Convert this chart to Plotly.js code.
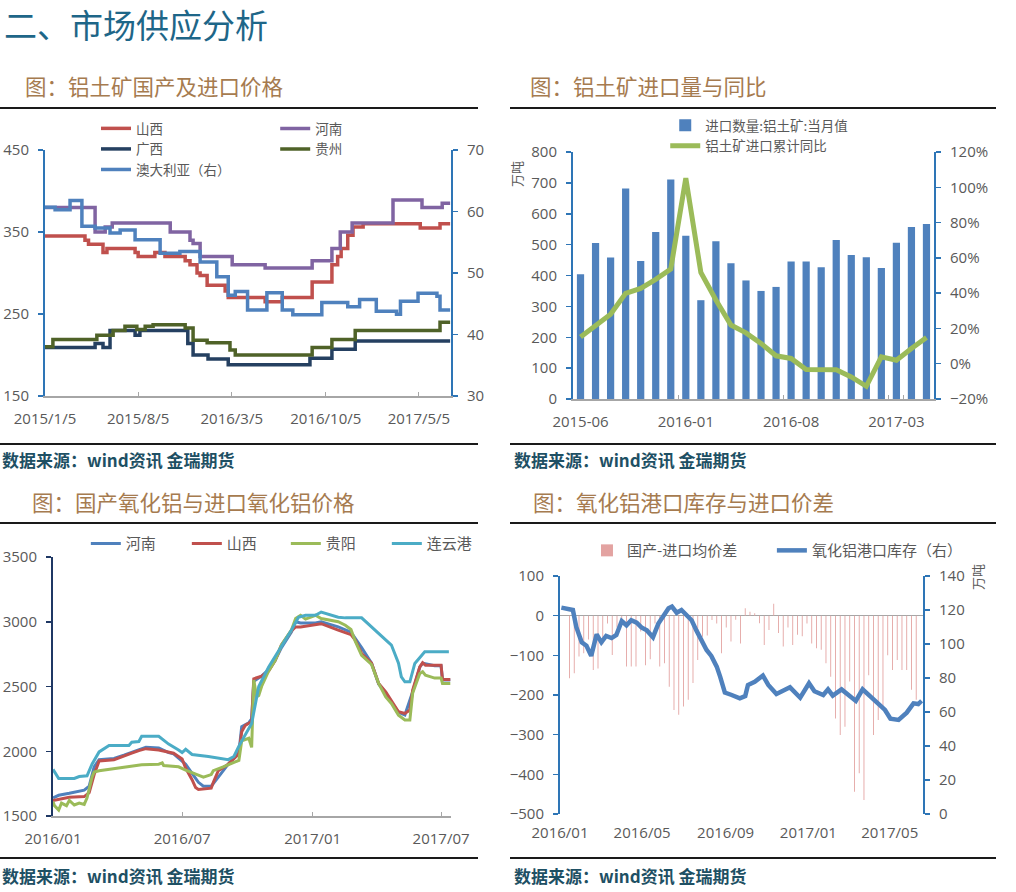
<!DOCTYPE html>
<html><head><meta charset="utf-8">
<script src="https://cdn.plot.ly/plotly-3.0.1.min.js"></script>
<style>
body{margin:0;background:#fff;width:1016px;height:892px;overflow:hidden;position:relative;font-family:"Noto Sans CJK SC",sans-serif;}
.t{position:absolute;white-space:nowrap;}
.h1{left:4px;top:0px;font-size:33px;color:#1E6688;line-height:normal;}
.h2{font-size:21.5px;color:#A67B4F;line-height:28px;}
.src{font-size:17px;font-weight:bold;color:#1E5064;line-height:24px;}
.rule{position:absolute;height:2px;background:#1a1a1a;}
.chart{position:absolute;}
</style></head>
<body>
<div class="t h1">二、市场供应分析</div>
<div class="t h2" style="left:25px;top:72px;">图：铝土矿国产及进口价格</div>
<div class="t h2" style="left:530px;top:72px;">图：铝土矿进口量与同比</div>
<div class="rule" style="left:0;top:107px;width:478px;"></div>
<div class="rule" style="left:510px;top:107px;width:486px;"></div>
<div class="rule" style="left:0;top:443px;width:478px;"></div>
<div class="rule" style="left:510px;top:443px;width:486px;"></div>
<div class="t src" style="left:2px;top:448px;">数据来源：wind资讯 金瑞期货</div>
<div class="t src" style="left:514px;top:448px;">数据来源：wind资讯 金瑞期货</div>
<div class="t h2" style="left:32px;top:488px;">图：国产氧化铝与进口氧化铝价格</div>
<div class="t h2" style="left:533px;top:488px;">图：氧化铝港口库存与进口价差</div>
<div class="rule" style="left:0;top:522px;width:478px;"></div>
<div class="rule" style="left:510px;top:522px;width:486px;"></div>
<div class="rule" style="left:0;top:857px;width:478px;"></div>
<div class="rule" style="left:510px;top:857px;width:486px;"></div>
<div class="t src" style="left:2px;top:864px;">数据来源：wind资讯 金瑞期货</div>
<div class="t src" style="left:514px;top:864px;">数据来源：wind资讯 金瑞期货</div>

<div id="c1" class="chart" style="left:0;top:70px;width:500px;height:370px;"></div>
<div id="c2" class="chart" style="left:500px;top:70px;width:510px;height:370px;"></div>
<div id="c3" class="chart" style="left:0;top:485px;width:500px;height:370px;"></div>
<div id="c4" class="chart" style="left:510px;top:485px;width:500px;height:370px;"></div>

<script>
// ---------- Chart 1: bauxite domestic & import prices ----------
const c1ShanxiX = ['2015-01-05','2015-04-06','2015-04-14','2015-05-17','2015-05-26','2015-07-29','2015-08-05','2015-09-12','2015-10-05','2015-11-20','2015-12-01','2015-12-17','2015-12-24','2016-01-09','2016-02-19','2016-02-26','2016-05-20','2016-06-28','2016-09-04','2016-10-19','2016-11-01','2016-11-09','2016-11-24','2016-12-06','2016-12-29','2017-05-08','2017-06-22','2017-07-15'];
const c1ShanxiY = [345,340,335,325,330,325,320,325,320,315,310,300,297,285,278,270,265,270,289,310,320,330,346,356,360,355,360,360];
const c1HenanX = ['2015-01-05','2015-04-29','2015-05-22','2015-06-07','2015-10-17','2015-12-01','2015-12-08','2015-12-24','2016-03-06','2016-05-20','2016-09-04','2016-10-19','2016-11-07','2016-12-04','2017-03-07','2017-05-12','2017-06-27','2017-07-15'];
const c1HenanY = [380,350,356,361,350,340,336,320,310,306,315,330,350,361,389,380,385,385];
const c1GuangxiX = ['2015-01-05','2015-04-29','2015-05-17','2015-06-02','2015-07-29','2015-08-09','2015-11-26','2015-12-08','2016-01-11','2016-02-26','2016-08-30','2016-10-19','2016-12-11','2017-07-15'];
const c1GuangxiY = [209,214,209,230,224,230,214,200,195,188,196,207,217,217];
const c1GuizhouX = ['2015-01-05','2015-01-23','2015-05-03','2015-06-09','2015-07-06','2015-08-02','2015-08-21','2015-09-08','2015-11-20','2015-12-08','2016-01-09','2016-03-01','2016-03-13','2016-09-04','2016-10-19','2016-12-11','2017-06-22','2017-07-15'];
const c1GuizhouY = [210,219,224,230,235,231,235,237,233,218,215,206,200,209,219,230,240,240];
const c1AusX = ['2015-01-05','2015-01-28','2015-03-03','2015-03-30','2015-04-29','2015-06-02','2015-06-25','2015-07-29','2015-09-24','2015-11-08','2015-12-24','2016-01-31','2016-02-26','2016-03-13','2016-04-10','2016-05-24','2016-06-28','2016-07-22','2016-09-26','2016-11-24','2016-12-21','2017-01-28','2017-03-15','2017-03-24','2017-05-03','2017-06-15','2017-06-22','2017-07-15'];
const c1AusY = [60.7,60.3,61.8,57.6,57.3,56.5,57.0,55.4,53.2,53.5,51.8,49.4,46.4,47.0,44.0,46.8,44.0,43.2,45.2,44.5,45.7,43.8,43.3,45.4,46.7,46.2,44.0,44.0];
const c1TickVals = ['2015-01-05','2015-08-05','2016-03-05','2016-10-05','2017-05-05'];
const c1TickText = ['2015/1/5','2015/8/5','2016/3/5','2016/10/5','2017/5/5'];

// ---------- Chart 2: bauxite imports & YoY ----------
const c2Months = ['2015-06','2015-07','2015-08','2015-09','2015-10','2015-11','2015-12','2016-01','2016-02','2016-03','2016-04','2016-05','2016-06','2016-07','2016-08','2016-09','2016-10','2016-11','2016-12','2017-01','2017-02','2017-03','2017-04','2017-05'];
const c2Imports = [404,505,458,682,447,541,711,529,320,511,440,384,350,363,445,445,427,515,466,459,424,506,557,567];
const c2Yoy = [15.2,21.9,28.1,39.9,42.7,47.8,53.7,105.2,51.8,36.1,21.9,17.5,11.5,4.5,3.0,-3.3,-3.4,-3.4,-7.5,-12.8,3.9,2.0,8.6,14.9];
const c2TickLabels = ['2015-06','2016-01','2016-08','2017-03'];

// ---------- Chart 3: alumina prices ----------
const c3HenanX = ['2016-01-01','2016-01-09','2016-01-24','2016-02-07','2016-02-14','2016-02-21','2016-02-28','2016-03-06','2016-03-27','2016-04-10','2016-04-21','2016-05-01','2016-05-11','2016-05-29','2016-06-12','2016-06-19','2016-06-26','2016-07-06','2016-07-15','2016-07-24','2016-07-31','2016-08-11','2016-08-21','2016-09-04','2016-09-19','2016-09-23','2016-10-03','2016-10-07','2016-10-10','2016-10-21','2016-10-31','2016-11-09','2016-11-18','2016-12-02','2016-12-08','2016-12-15','2017-01-05','2017-01-13','2017-02-06','2017-02-24','2017-03-11','2017-03-25','2017-04-04','2017-04-14','2017-04-22','2017-05-02','2017-05-11','2017-05-22','2017-06-01','2017-06-05','2017-06-22','2017-07-01','2017-07-03','2017-07-14'];
const c3HenanY = [1640,1660,1675,1690,1700,1730,1880,1935,1945,1970,1990,2010,2030,2025,1990,1980,1950,1900,1830,1760,1730,1730,1800,1900,1990,2190,2220,2250,2540,2580,2630,2700,2800,2920,3000,2990,2990,3000,2960,2920,2800,2680,2520,2450,2380,2300,2280,2460,2650,2680,2660,2660,2550,2550];
const c3ShanxiX = ['2016-01-01','2016-01-09','2016-01-24','2016-02-14','2016-02-21','2016-02-28','2016-03-06','2016-03-27','2016-04-10','2016-04-21','2016-05-01','2016-05-11','2016-05-29','2016-06-12','2016-06-19','2016-07-01','2016-07-06','2016-07-15','2016-07-20','2016-07-24','2016-08-11','2016-08-14','2016-08-21','2016-09-04','2016-09-19','2016-09-23','2016-09-28','2016-10-07','2016-10-10','2016-10-21','2016-10-31','2016-11-09','2016-11-18','2016-12-02','2016-12-08','2016-12-15','2017-01-13','2017-02-06','2017-02-24','2017-03-02','2017-03-11','2017-03-25','2017-04-04','2017-04-14','2017-04-22','2017-05-02','2017-05-11','2017-05-18','2017-05-22','2017-06-01','2017-06-05','2017-06-09','2017-06-22','2017-07-01','2017-07-03','2017-07-14'];
const c3ShanxiY = [1620,1630,1645,1650,1680,1820,1925,1935,1960,1985,2005,2020,2010,1995,1985,1940,1870,1780,1720,1705,1715,1760,1850,1900,1980,2150,2200,2230,2560,2580,2620,2700,2820,2930,2960,2960,2985,2935,2900,2858,2755,2680,2524,2459,2395,2305,2292,2318,2472,2652,2683,2665,2665,2665,2555,2555];
const c3GuiyangX = ['2016-01-01','2016-01-03','2016-01-09','2016-01-13','2016-01-20','2016-01-24','2016-01-31','2016-02-07','2016-02-14','2016-02-18','2016-02-25','2016-02-28','2016-03-06','2016-04-03','2016-04-17','2016-05-05','2016-05-29','2016-06-03','2016-06-05','2016-06-26','2016-07-06','2016-07-17','2016-07-24','2016-07-31','2016-08-11','2016-08-14','2016-08-28','2016-09-12','2016-09-19','2016-09-23','2016-10-03','2016-10-07','2016-10-10','2016-10-14','2016-10-17','2016-10-21','2016-10-31','2016-11-09','2016-11-18','2016-12-02','2016-12-08','2016-12-15','2016-12-22','2017-01-05','2017-01-13','2017-02-06','2017-02-16','2017-02-24','2017-03-02','2017-03-11','2017-03-25','2017-04-04','2017-04-14','2017-04-22','2017-05-02','2017-05-11','2017-05-18','2017-05-22','2017-06-01','2017-06-05','2017-06-09','2017-06-22','2017-07-01','2017-07-03','2017-07-14'];
const c3GuiyangY = [1610,1580,1546,1600,1580,1620,1585,1600,1590,1640,1800,1840,1850,1870,1880,1895,1900,1910,1890,1880,1855,1830,1810,1800,1820,1850,1880,1910,1930,2080,2100,2030,2550,2420,2430,2500,2620,2700,2820,2935,3025,3050,3020,3050,3025,3000,2973,2940,2850,2740,2670,2524,2420,2369,2279,2241,2241,2450,2601,2614,2588,2565,2565,2524,2524];
const c3LygX = ['2016-01-01','2016-01-09','2016-01-31','2016-02-07','2016-02-18','2016-02-25','2016-03-06','2016-03-20','2016-04-17','2016-04-21','2016-05-01','2016-05-05','2016-05-29','2016-06-12','2016-06-26','2016-07-01','2016-07-06','2016-07-15','2016-08-07','2016-08-21','2016-09-04','2016-09-12','2016-09-19','2016-10-07','2016-10-17','2016-10-31','2016-11-09','2016-11-18','2016-12-02','2016-12-12','2016-12-22','2017-01-05','2017-01-13','2017-02-06','2017-02-16','2017-03-11','2017-03-25','2017-03-31','2017-04-14','2017-04-22','2017-05-02','2017-05-06','2017-05-11','2017-05-18','2017-05-25','2017-06-08','2017-07-12'];
const c3LygY = [1860,1790,1790,1805,1810,1900,1995,2045,2045,2070,2075,2115,2115,2055,2010,1990,2015,1975,1960,1945,1935,1960,2040,2215,2500,2650,2730,2800,2935,3035,3050,3050,3075,3035,3030,3030,2960,2935,2860,2820,2680,2575,2536,2536,2678,2768,2768];
const c3TickVals = ['2016-01-01','2016-07-01','2017-01-01','2017-07-01'];
const c3TickText = ['2016/01','2016/07','2017/01','2017/07'];

// ---------- Chart 4: port inventory & price spread ----------
const c4SpreadX = ['2016-01-15','2016-01-22','2016-01-29','2016-02-05','2016-02-12','2016-02-19','2016-02-26','2016-03-04','2016-03-11','2016-03-18','2016-03-25','2016-04-01','2016-04-08','2016-04-15','2016-04-22','2016-04-29','2016-05-06','2016-05-13','2016-05-20','2016-05-27','2016-06-03','2016-06-10','2016-06-17','2016-06-24','2016-07-01','2016-07-08','2016-07-15','2016-07-22','2016-07-29','2016-08-05','2016-08-12','2016-08-19','2016-08-26','2016-09-02','2016-09-09','2016-09-16','2016-09-23','2016-09-30','2016-10-07','2016-10-14','2016-10-21','2016-10-28','2016-11-04','2016-11-11','2016-11-18','2016-11-25','2016-12-02','2016-12-09','2016-12-16','2016-12-23','2016-12-30','2017-01-06','2017-01-13','2017-01-20','2017-01-27','2017-02-03','2017-02-10','2017-02-17','2017-02-24','2017-03-03','2017-03-10','2017-03-17','2017-03-24','2017-03-31','2017-04-07','2017-04-14','2017-04-21','2017-04-28','2017-05-05','2017-05-12','2017-05-19','2017-05-26','2017-06-02','2017-06-09'];
const c4SpreadY = [-158,-145,-103,-95,-60,-137,-133,-72,-20,-99,-30,-10,-128,-128,-128,-40,-125,-110,-20,-128,-120,-179,-238,-250,-229,-212,-170,-112,-53,-50,-11,-20,-95,-30,-65,-10,-70,19,10,6,-19,-74,-36,30,-44,-78,-30,-74,-48,-52,-20,-70,-82,-86,-120,-154,-259,-301,-280,-166,-444,-397,-465,-150,-301,-263,-229,-100,-137,-112,-137,-137,-187,-212];
const c4StockX = ['2016-01-03','2016-01-20','2016-01-25','2016-02-02','2016-02-09','2016-02-16','2016-02-24','2016-03-02','2016-03-09','2016-03-17','2016-03-24','2016-04-01','2016-04-08','2016-04-15','2016-04-23','2016-04-30','2016-05-08','2016-05-17','2016-05-25','2016-06-01','2016-06-09','2016-06-14','2016-06-21','2016-06-28','2016-07-06','2016-07-13','2016-07-20','2016-07-28','2016-08-04','2016-08-11','2016-08-19','2016-08-24','2016-08-31','2016-09-10','2016-09-22','2016-09-30','2016-10-04','2016-10-14','2016-10-26','2016-11-03','2016-11-15','2016-12-05','2016-12-20','2017-01-02','2017-01-10','2017-01-23','2017-01-30','2017-02-06','2017-02-19','2017-03-12','2017-03-22','2017-04-24','2017-05-02','2017-05-14','2017-05-26','2017-06-05','2017-06-12','2017-06-17'];
const c4StockY = [121.4,120,110,101,99,93,105.7,101,104.7,103.5,105.3,113.5,111,114,112.5,109.8,108,104,112,116.5,121,122,118.4,120,117,114,108,102.4,96.5,93,86.7,80.8,71.4,70,68,69.4,75.9,77.8,81.4,75.9,70.6,74.5,68.4,76.9,72.2,70,73.3,69.6,73.3,66.5,73.3,61.2,56,55.3,59.6,65.1,64.7,66.6];
const c4TickVals = ['2016-01-01','2016-05-01','2016-09-01','2017-01-01','2017-05-01'];
const c4TickText = ['2016/01','2016/05','2016/09','2017/01','2017/05'];

// ---------- common styles ----------
const TF = {family:'Open Sans, sans-serif', size:15, color:'#595959'};
const LF = {family:'Noto Sans CJK SC, sans-serif', size:14, color:'#595959'};
const LF13 = {family:'Noto Sans CJK SC, sans-serif', size:13.5, color:'#595959'};
const LF15 = {family:'Noto Sans CJK SC, sans-serif', size:15, color:'#595959'};
const BLUEAX = '#2E75B6';
const GRAYAX = '#A6A6A6';
const cfg = {displayModeBar:false, staticPlot:true};
function yax(extra){
  return Object.assign({showgrid:false, zeroline:false, showline:true, linecolor:BLUEAX, linewidth:2,
    ticks:'outside', ticklen:5, tickwidth:1.5, tickcolor:BLUEAX, tickfont:TF, ticklabelstandoff:6, fixedrange:true}, extra);
}
function xax(extra){
  return Object.assign({showgrid:false, zeroline:false, showline:true, linecolor:GRAYAX, linewidth:1.5,
    ticks:'inside', ticklen:4, tickcolor:GRAYAX, tickfont:TF, ticklabelstandoff:8, tickangle:0, fixedrange:true}, extra);
}
function baseLayout(w,h,m){
  return {width:w, height:h, autosize:false, margin:Object.assign({pad:0},m),
    paper_bgcolor:'rgba(0,0,0,0)', plot_bgcolor:'rgba(0,0,0,0)', showlegend:true, font:LF};
}
const LG = {xanchor:'left', yanchor:'top', bgcolor:'rgba(0,0,0,0)', tracegroupgap:0};
const unitNote = (x,y) => ({xref:'paper', yref:'paper', x:x, y:y, xanchor:'center', yanchor:'middle', text:'万吨',
  textangle:-90, showarrow:false, font:{family:'Noto Sans CJK SC', size:13, color:'#595959'}});

// Chart 1
(function(){
  const ln = (x,y,name,color,leg,ax) => ({type:'scatter', mode:'lines', x:x, y:y, name:name, yaxis:ax||'y',
    line:{color:color, width:3.5, shape:'hv'}, legend:leg});
  const data = [
    ln(c1ShanxiX,c1ShanxiY,'山西','#C0504D','legend'),
    ln(c1HenanX,c1HenanY,'河南','#8064A2','legend2'),
    ln(c1GuangxiX,c1GuangxiY,'广西','#254061','legend'),
    ln(c1GuizhouX,c1GuizhouY,'贵州','#4F6228','legend2'),
    ln(c1AusX,c1AusY,'澳大利亚（右）','#4F81BD','legend','y2')
  ];
  const L = baseLayout(500,370,{l:45,r:49,t:80,b:44});
  L.xaxis = xax({type:'date', range:['2015-01-05','2017-07-17'], tickmode:'array', tickvals:c1TickVals, ticktext:c1TickText});
  L.yaxis = yax({range:[150,450], dtick:100, tick0:150});
  L.yaxis2 = yax({range:[30,70], dtick:10, overlaying:'y', side:'right'});
  L.legend = Object.assign({x:0.1256, y:1.15, font:LF13}, LG);
  L.legend2 = Object.assign({x:0.567, y:1.15, font:LF13}, LG);
  Plotly.newPlot('c1', data, L, cfg);
})();

// Chart 2
(function(){
  const data = [
    {type:'bar', x:c2Months, y:c2Imports, name:'进口数量:铝土矿:当月值', marker:{color:'#4F81BD'}},
    {type:'scatter', mode:'lines', x:c2Months, y:c2Yoy, name:'铝土矿进口累计同比', yaxis:'y2',
      line:{color:'#9BBB59', width:5}}
  ];
  const L = baseLayout(510,370,{l:73,r:76,t:82,b:41});
  L.bargap = 0.52;
  L.xaxis = xax({type:'category', range:[-0.5,23.5], tickmode:'array', tickvals:c2TickLabels, ticktext:c2TickLabels, tickson:'boundaries'});
  L.yaxis = yax({range:[0,800], dtick:100});
  L.yaxis2 = yax({range:[-20,120], dtick:20, ticksuffix:'%', overlaying:'y', side:'right'});
  L.legend = Object.assign({x:0.2555, y:1.17, font:LF13}, LG);
  L.annotations = [unitNote(-0.155, 0.911)];
  Plotly.newPlot('c2', data, L, cfg);
})();

// Chart 3
(function(){
  const ln = (x,y,name,color,leg) => ({type:'scatter', mode:'lines', x:x, y:y, name:name, line:{color:color, width:3}, legend:leg});
  const data = [
    ln(c3HenanX,c3HenanY,'河南','#4F81BD','legend'),
    ln(c3ShanxiX,c3ShanxiY,'山西','#C0504D','legend'),
    ln(c3GuiyangX,c3GuiyangY,'贵阳','#9BBB59','legend2'),
    ln(c3LygX,c3LygY,'连云港','#4BACC6','legend2')
  ];
  const L = baseLayout(500,370,{l:53,r:47,t:72,b:39});
  L.xaxis = xax({type:'date', range:['2016-01-01','2017-07-15'], tickmode:'array', tickvals:c3TickVals, ticktext:c3TickText});
  L.yaxis = yax({range:[1500,3500], dtick:500, linecolor:'#1F3864', tickcolor:'#1F3864'});
  const h = {orientation:'h', y:1.115, font:LF15, entrywidth:56, entrywidthmode:'pixels'};
  L.legend = Object.assign({x:0.0825}, LG, h);
  L.legend2 = Object.assign({x:0.585}, LG, h);
  Plotly.newPlot('c3', data, L, cfg);
})();

// Chart 4
(function(){
  const data = [
    {type:'bar', x:c4SpreadX, y:c4SpreadY, name:'国产-进口均价差', width:1.3*86400000,
      marker:{color:'#E3A3A1', line:{width:0}}, legend:'legend'},
    {type:'scatter', mode:'lines', x:c4StockX, y:c4StockY, name:'氧化铝港口库存（右）', yaxis:'y2',
      line:{color:'#4F81BD', width:4.5}, legend:'legend2'}
  ];
  const L = baseLayout(500,370,{l:50,r:87,t:91,b:41});
  L.xaxis = xax({type:'date', range:['2016-01-01','2017-06-19'], tickmode:'array', tickvals:c4TickVals, ticktext:c4TickText,
    showline:false, ticks:''});
  L.yaxis = yax({range:[-500,100], dtick:100, zeroline:true, zerolinecolor:GRAYAX, zerolinewidth:1.5});
  L.yaxis2 = yax({range:[0,140], dtick:20, overlaying:'y', side:'right'});
  const h = {orientation:'h', y:1.176, font:LF15};
  L.legend = Object.assign({x:0.0743}, LG, h);
  L.legend2 = Object.assign({x:0.5837}, LG, h);
  L.annotations = [unitNote(1.1515, 0.996)];
  Plotly.newPlot('c4', data, L, cfg);
})();
</script>
</body></html>
